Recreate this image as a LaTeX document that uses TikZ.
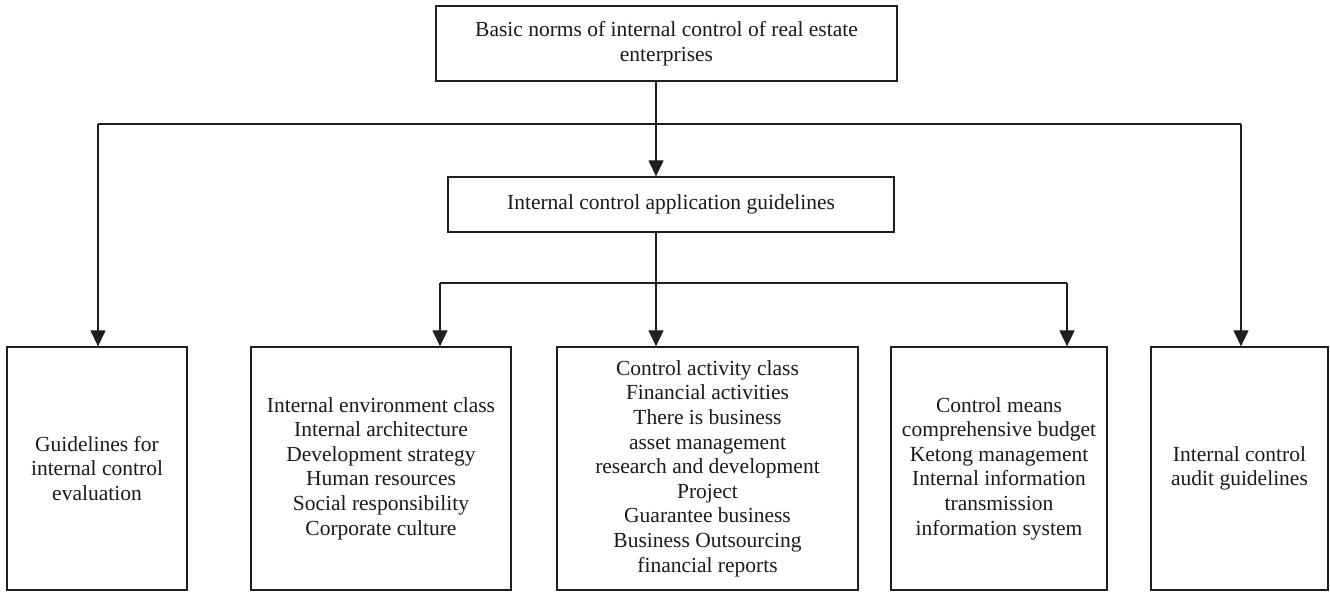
\documentclass[tikz,border=0pt]{standalone}
\usepackage{fontspec}
\setmainfont{Liberation Serif}
\usetikzlibrary{arrows.meta}
\definecolor{ln}{HTML}{1E1E1E}
\definecolor{txt}{HTML}{1A1A1A}
\begin{document}
\begin{tikzpicture}[x=1pt,y=-1pt,
  box/.style={draw=ln,line width=1.3pt,inner sep=0pt,align=center,text=txt,
    font=\fontsize{21.5}{24.6}\selectfont},
  arr/.style={draw=ln,line width=1.3pt,-{Triangle[length=16pt,width=15pt]}},
  ln/.style={draw=ln,line width=1.3pt}]
\useasboundingbox (0,0) rectangle (1330,593);
\node[box,minimum width=461pt,minimum height=75pt] (top) at (666.5,43.5)
  {Basic norms of internal control of real estate\\enterprises};
\node[box,minimum width=446pt,minimum height=55pt] (mid) at (671,204.5)
  {Internal control application guidelines};
\node[box,minimum width=180pt,minimum height=243pt] (b1) at (97,468.5)
  {Guidelines for\\internal control\\evaluation};
\node[box,minimum width=260pt,minimum height=243pt] (b2) at (381,468.5)
  {Internal environment class\\Internal architecture\\Development strategy\\Human resources\\Social responsibility\\Corporate culture};
\node[box,minimum width=301pt,minimum height=243pt] (b3) at (707.5,468.5)
  {Control activity class\\Financial activities\\There is business\\asset management\\research and development\\Project\\Guarantee business\\Business Outsourcing\\financial reports};
\node[box,minimum width=216pt,minimum height=243pt] (b4) at (999,468.5)
  {Control means\\comprehensive budget\\Ketong management\\Internal information\\transmission\\information system};
\node[box,minimum width=177pt,minimum height=243pt] (b5) at (1239.5,468.5)
  {Internal control\\audit guidelines};
% upper bus
\coordinate (uL) at (98,124);
\coordinate (uC) at (656,124);
\coordinate (uR) at (1241,124);
\draw[ln] (uL) -- (uR);
\draw[arr] (top.south -| uC) -- (mid.north -| uC);
\draw[arr] (uL) -- (uL |- b1.north);
\draw[arr] (uR) -- (uR |- b5.north);
% lower bus
\coordinate (lL) at (440,283);
\coordinate (lC) at (656,283);
\coordinate (lR) at (1067,283);
\draw[ln] (mid.south -| lC) -- (lC);
\draw[ln] (lL) -- (lR);
\draw[arr] (lL) -- (lL |- b2.north);
\draw[arr] (lC) -- (lC |- b3.north);
\draw[arr] (lR) -- (lR |- b4.north);
\end{tikzpicture}
\end{document}
